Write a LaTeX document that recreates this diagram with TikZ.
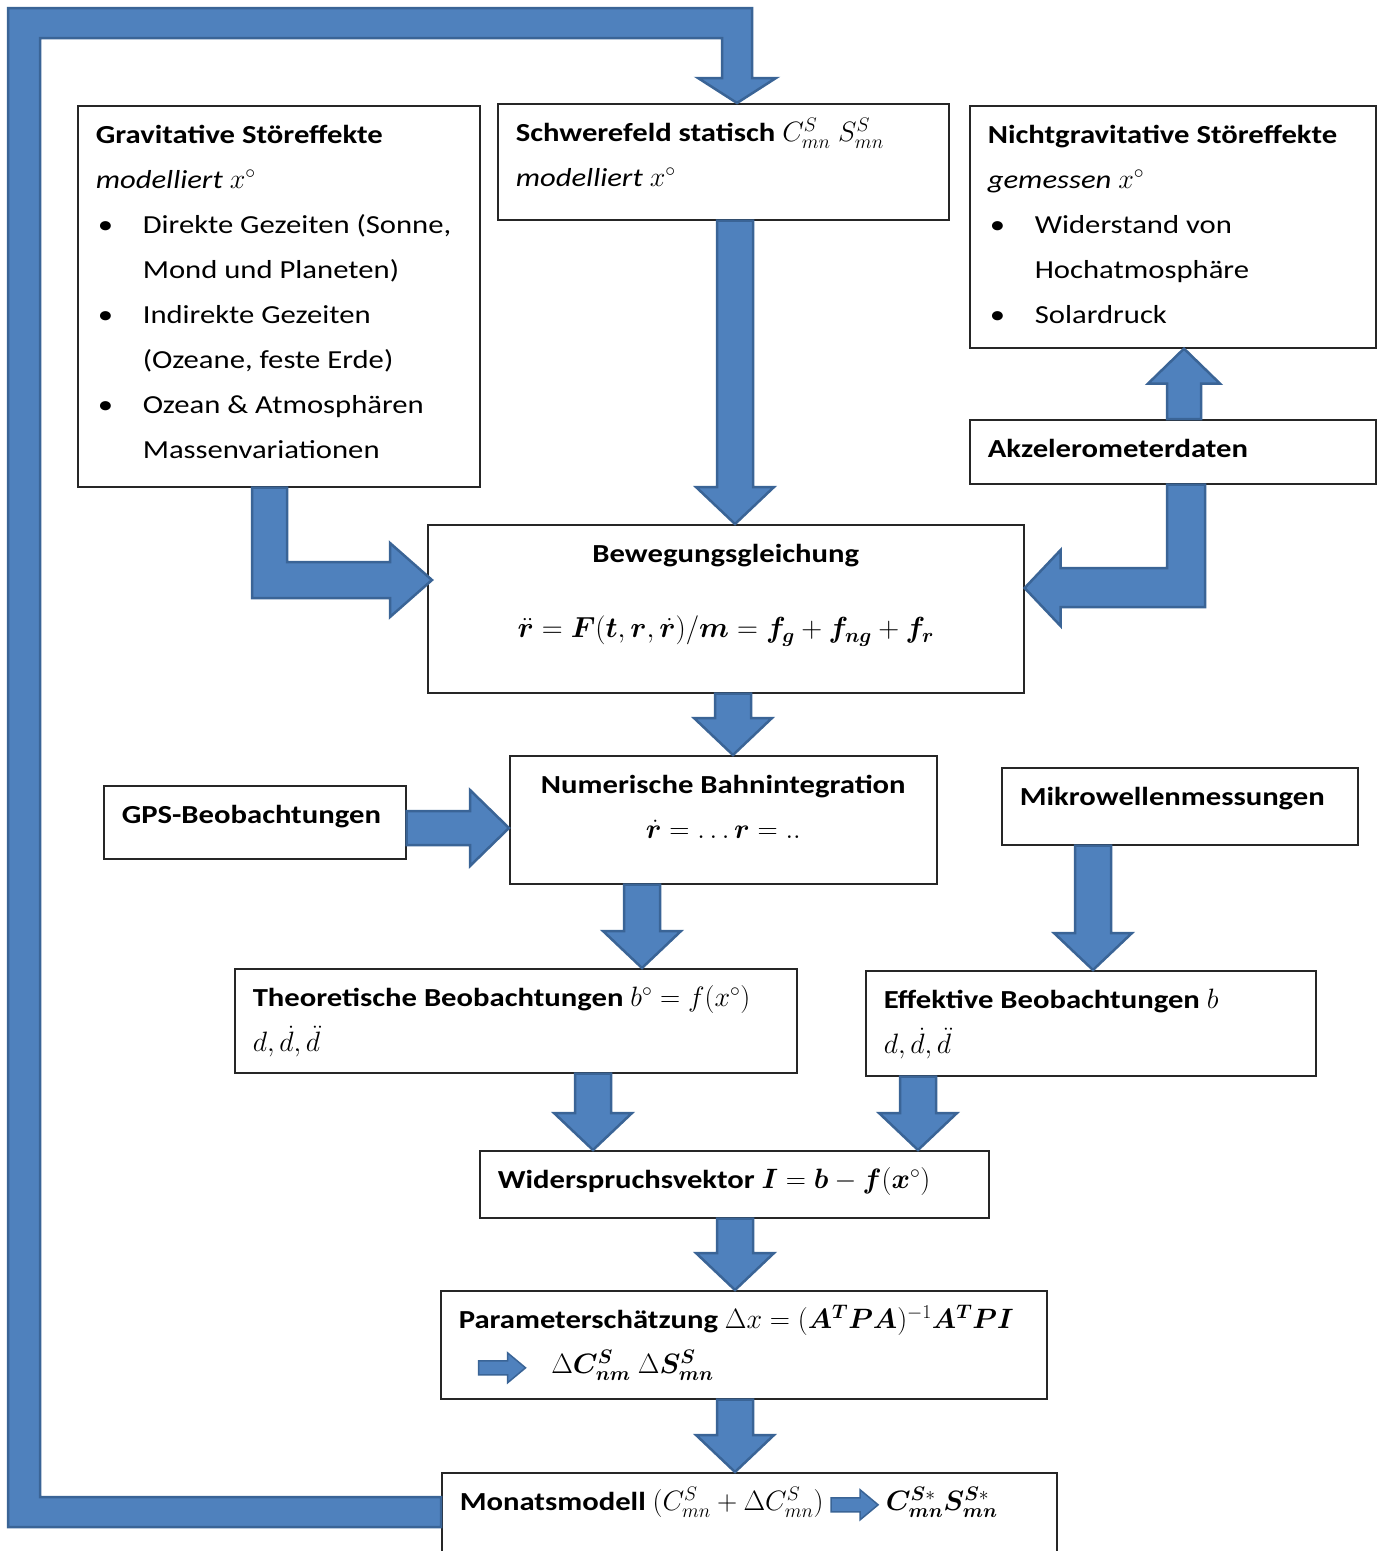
\RequirePackage{fix-cm}
\documentclass[tikz,border=0pt]{standalone}
\usepackage{fontspec}
\setmainfont{Carlito}[FakeStretch=1.18]
\usepackage{amsmath,bm}
\usetikzlibrary{calc}

\definecolor{arrowfill}{HTML}{4F81BD}
\definecolor{arrowline}{HTML}{3A6496}
\definecolor{boxline}{HTML}{262626}

% text inside a box: fixed width and height, first baseline 38pt below the top
\newcommand{\boxtext}[3]{\parbox[c][#2][t]{#1}{\rule{0pt}{38pt}#3}}
\newcommand{\bulletline}{\hspace*{2pt}\makebox[45pt][l]{\textbullet}}
% math set a little larger than the text around it
\newcommand{\mth}[1]{{\fontsize{28}{45}\selectfont$#1$}}
\newcommand{\inarrow}{\tikz[baseline=-6pt,x=1pt,y=1pt]\filldraw[fill=arrowfill,draw=arrowline,line width=1.5pt]
  (0,-7) -- (29,-7) -- (29,-15) -- (47,0) -- (29,15) -- (29,7) -- (0,7) -- cycle;}

% block arrows between boxes
\newcommand{\fatdown}[3]{\filldraw[fat] let \p1=(#1.south), \p2=(#2.north) in
  (#3pt-18pt,\y1) -- (#3pt+18pt,\y1) -- (#3pt+18pt,\y2+37pt) -- (#3pt+39pt,\y2+37pt)
  -- (#3pt,\y2) -- (#3pt-39pt,\y2+37pt) -- (#3pt-18pt,\y2+37pt) -- cycle;}
\newcommand{\fatup}[3]{\filldraw[fat] let \p1=(#1.north), \p2=(#2.south) in
  (#3pt-17pt,\y1) -- (#3pt-17pt,\y2-35pt) -- (#3pt-36pt,\y2-35pt) -- (#3pt,\y2)
  -- (#3pt+36pt,\y2-35pt) -- (#3pt+17pt,\y2-35pt) -- (#3pt+17pt,\y1) -- cycle;}
\newcommand{\fatright}[3]{\filldraw[fat] let \p1=(#1.east), \p2=(#2.west) in
  (\x1,-#3pt+17pt) -- (\x2-39pt,-#3pt+17pt) -- (\x2-39pt,-#3pt+38pt) -- (\x2,-#3pt)
  -- (\x2-39pt,-#3pt-38pt) -- (\x2-39pt,-#3pt-17pt) -- (\x1,-#3pt-17pt) -- cycle;}

\begin{document}
\begin{tikzpicture}[
    x=1pt, y=-1pt,
    box/.style={draw=boxline, line width=1.6pt, fill=white, anchor=north west,
      inner xsep=18pt, inner ysep=0pt, font=\fontsize{26}{45}\selectfont},
    fat/.style={fill=arrowfill, draw=arrowline, line width=2.5pt, line join=miter}
    ]
\useasboundingbox (0,0) rectangle (1381,1551);

% top row
\node[box] (grav) at (77,105) {\boxtext{366pt}{381pt}{%
  \textbf{Gravitative Störeffekte}\\
  \textit{modelliert} \mth{x^{\circ}}\\
  \bulletline Direkte Gezeiten (Sonne,\\
  \hspace*{47pt}Mond und Planeten)\\
  \bulletline Indirekte Gezeiten\\
  \hspace*{47pt}(Ozeane, feste Erde)\\
  \bulletline Ozean \& Atmosphären\\
  \hspace*{47pt}Massenvariationen}};
\node[box] (schwere) at (497,103) {\boxtext{415pt}{116pt}{%
  \textbf{Schwerefeld statisch} \mth{C^{S}_{mn}\ S^{S}_{mn}}\\
  \textit{modelliert} \mth{x^{\circ}}}};
\node[box] (nicht) at (969,105) {\boxtext{370pt}{242pt}{%
  \textbf{Nichtgravitative Störeffekte}\\
  \textit{gemessen} \mth{x^{\circ}}\\
  \bulletline Widerstand von\\
  \hspace*{47pt}Hochatmosphäre\\
  \bulletline Solardruck}};
\node[box] (akzel) at (969,419) {\boxtext{370pt}{64pt}{\textbf{Akzelerometerdaten}}};

% equation of motion and integration
\node[box] (beweg) at (427,524) {\boxtext{560pt}{168pt}{\centering
  \textbf{Bewegungsgleichung}\\[30pt]
  {\fontsize{29}{45}\selectfont$\ddot{\bm r} = \bm F(\bm t,\bm r,\dot{\bm r})/\bm m
    = \bm f_{\bm g} + \bm f_{\bm{ng}} + \bm f_{\bm r}$}}};
\node[box] (gps) at (103,785) {\boxtext{266pt}{73pt}{\textbf{GPS-Beobachtungen}}};
\node[box] (numer) at (509,755) {\boxtext{391pt}{128pt}{\centering
  \textbf{Numerische Bahnintegration}\\
  \mth{\dot{\bm r} = \ldots\bm r = ..}}};
\node[box] (mikro) at (1001,767) {\boxtext{320pt}{77pt}{\textbf{Mikrowellenmessungen}}};

% observations
\node[box] (theo) at (234,968) {\boxtext{526pt}{104pt}{%
  \textbf{Theoretische Beobachtungen} \mth{b^{\circ} = f(x^{\circ})}\\
  \mth{d,\dot d,\ddot d}}};
\node[box] (effek) at (865,970) {\boxtext{414pt}{105pt}{%
  \textbf{Effektive Beobachtungen} \mth{b}\\
  \mth{d,\dot d,\ddot d}}};

% adjustment
\node[box] (wider) at (479,1150) {\boxtext{473pt}{67pt}{%
  \textbf{Widerspruchsvektor} \mth{\bm I = \bm b - \bm f(\bm x^{\circ})}}};
\node[box] (param) at (440,1290) {\boxtext{570pt}{108pt}{%
  \textbf{Parameterschätzung} \mth{\Delta x = (\bm A^{\bm T}\bm{PA})^{-1}\bm A^{\bm T}\bm{PI}}\\
  \hspace*{19pt}\inarrow\hspace{25pt}\mth{\Delta\bm C^{\bm S}_{\bm{nm}}\ \Delta\bm S^{\bm S}_{\bm{mn}}}}};
\node[box] (monat) at (441,1472) {\boxtext{579pt}{95pt}{%
  \textbf{Monatsmodell} \mth{(C^{S}_{mn} + \Delta C^{S}_{mn})} \inarrow\
  \mth{\bm C^{\bm S*}_{\bm{mn}}\bm S^{\bm S*}_{\bm{mn}}}}};

% arrows
\fatdown{schwere}{beweg}{735}
\fatdown{beweg}{numer}{733}
\fatdown{numer}{theo}{642}
\fatdown{mikro}{effek}{1093}
\fatdown{theo}{wider}{593}
\fatdown{effek}{wider}{918}
\fatdown{wider}{param}{735}
\fatdown{param}{monat}{735}
\fatup{akzel}{nicht}{1184}
\fatright{gps}{numer}{828}

% bent arrows into the equation of motion
\filldraw[fat] let \p1=(grav.south), \p2=(beweg.west) in
  (252pt,\y1) -- (287pt,\y1) -- (287pt,-562pt) -- (\x2-37pt,-562pt) -- (\x2-37pt,-543pt)
  -- (\x2+5pt,-580pt) -- (\x2-37pt,-617pt) -- (\x2-37pt,-598pt) -- (252pt,-598pt) -- cycle;
\filldraw[fat] let \p1=(akzel.south), \p2=(beweg.east) in
  (1167pt,\y1) -- (1205pt,\y1) -- (1205pt,-607pt) -- (\x2+36pt,-607pt) -- (\x2+36pt,-626pt)
  -- (\x2,-588pt) -- (\x2+36pt,-550pt) -- (\x2+36pt,-568pt) -- (1167pt,-568pt) -- cycle;

% feedback: monthly model back to the static field
\filldraw[fat] let \p1=(monat.west), \p2=(schwere.north) in
  (\x1,-1497pt) -- (40pt,-1497pt) -- (40pt,-38pt) -- (722pt,-38pt) -- (722pt,-78pt)
  -- (698pt,-78pt) -- (737pt,\y2) -- (776pt,-78pt) -- (752pt,-78pt) -- (752pt,-8pt)
  -- (8pt,-8pt) -- (8pt,-1527pt) -- (\x1,-1527pt) -- cycle;

\end{tikzpicture}
\end{document}
